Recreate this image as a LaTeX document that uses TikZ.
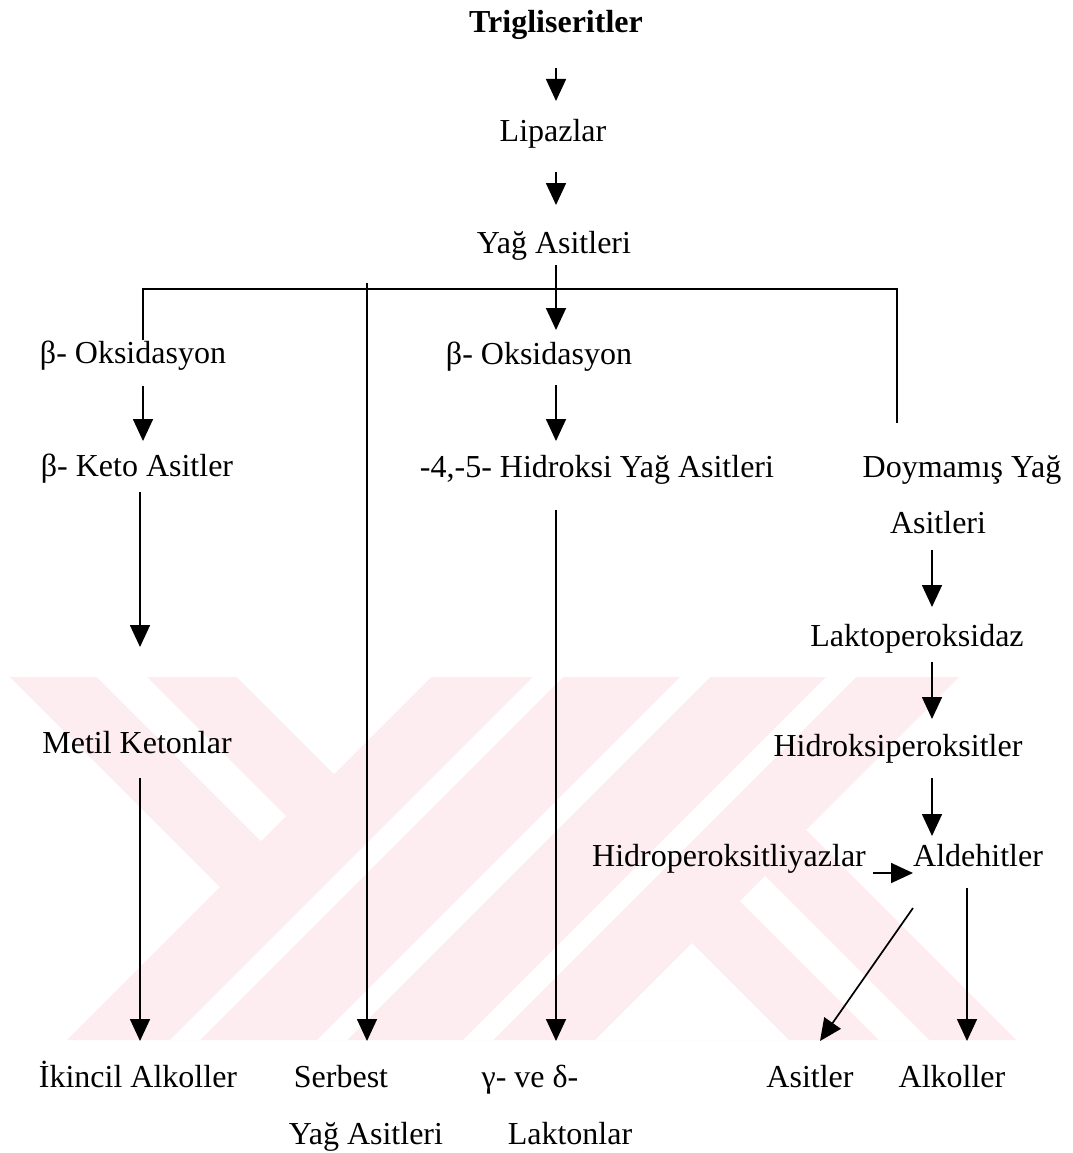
\documentclass[tikz,border=0pt]{standalone}
\usepackage{fontspec}
\setmainfont{Liberation Serif}
\usetikzlibrary{arrows.meta}
\definecolor{wm}{RGB}{253,236,240}
\begin{document}
\begin{tikzpicture}[x=1pt,y=-1pt,
  lbl/.style={anchor=base,inner sep=0pt,font=\fontsize{32}{38}\selectfont},
  arr/.style={line width=1.7pt,-{Triangle[length=22pt,width=20pt]}},
  ln/.style={line width=1.7pt},
  wmark/.style={fill=wm,draw=none},
  wgap/.style={fill=white,draw=none}]
\useasboundingbox[fill=white] (0,0) rectangle (1072,1153);
% watermark
\fill[wmark] (10,677) -- (959,677) -- (806,830) -- (1016,1040) -- (67,1040) -- (220,887) -- cycle;
\fill[wgap] (97,677) -- (147,677) -- (286,816) -- (261,841) -- cycle;
\fill[wgap] (929,1040) -- (879,1040) -- (740,901) -- (765,876) -- cycle;
\fill[wgap] (237,677) -- (334,774) -- (431,677) -- cycle;
\fill[wgap] (789,1040) -- (692,943) -- (595,1040) -- cycle;
\fill[wgap] (533,677) -- (563,677) -- (200,1040) -- (170,1040) -- cycle;
\fill[wgap] (680,677) -- (710,677) -- (347,1040) -- (317,1040) -- cycle;
\fill[wgap] (826,677) -- (856,677) -- (493,1040) -- (463,1040) -- cycle;
% labels
\node[lbl,font=\fontsize{32}{38}\selectfont\bfseries] (trig) at (556,33) {Trigliseritler};
\node[lbl] (lip) at (553,141) {Lipazlar};
\node[lbl] (yag) at (554,253) {Yağ Asitleri};
\node[lbl] (boxa) at (133,363) {β- Oksidasyon};
\node[lbl] (boxb) at (539,364) {β- Oksidasyon};
\node[lbl] (keto) at (137,476) {β- Keto Asitler};
\node[lbl] (hid) at (597,477) {-4,-5- Hidroksi Yağ Asitleri};
\node[lbl] (doya) at (962,477) {Doymamış Yağ};
\node[lbl] (doyb) at (938,533) {Asitleri};
\node[lbl] (lakto) at (917,646) {Laktoperoksidaz};
\node[lbl] (metil) at (137,753) {Metil Ketonlar};
\node[lbl] (hperox) at (898,756) {Hidroksiperoksitler};
\node[lbl] (hlyaz) at (729,866) {Hidroperoksitliyazlar};
\node[lbl] (ald) at (978,866) {Aldehitler};
\node[lbl] (ikin) at (138,1087) {İkincil Alkoller};
\node[lbl] (serba) at (341,1087) {Serbest};
\node[lbl] (serbb) at (366,1144) {Yağ Asitleri};
\node[lbl] (gama) at (530,1087) {γ- ve δ-};
\node[lbl] (gamb) at (570,1144) {Laktonlar};
\node[lbl] (asit) at (810,1087) {Asitler};
\node[lbl] (alk) at (952,1087) {Alkoller};
% connector end points
\coordinate (t1) at (556,68);   \coordinate (t2) at (556,101);
\coordinate (l1) at (556,172);  \coordinate (l2) at (556,205);
\coordinate (y1) at (556,265);  \coordinate (y2) at (556,330);
\coordinate (bl) at (143,340);  \coordinate (blc) at (143,289);
\coordinate (brc) at (897,289); \coordinate (br) at (897,423);
\coordinate (s1) at (367,283);  \coordinate (s2) at (367,1041);
\coordinate (p1) at (143,386);  \coordinate (p2) at (143,441);
\coordinate (k1) at (140,492);  \coordinate (k2) at (140,647);
\coordinate (m1) at (140,778);  \coordinate (m2) at (140,1041);
\coordinate (q1) at (556,385);  \coordinate (q2) at (556,441);
\coordinate (h1) at (556,510);  \coordinate (h2) at (556,1041);
\coordinate (d1) at (932,550);  \coordinate (d2) at (932,607);
\coordinate (e1) at (932,662);  \coordinate (e2) at (932,719);
\coordinate (f1) at (932,778);  \coordinate (f2) at (932,836);
\coordinate (g1) at (873,873);  \coordinate (g2) at (913,873);
\coordinate (j1) at (913,908);  \coordinate (j2) at (820,1041);
\coordinate (v1) at (967,888);  \coordinate (v2) at (967,1041);
% connectors
\draw[arr] (t1) -- (t2);
\draw[arr] (l1) -- (l2);
\draw[arr] (y1) -- (y2);
\draw[ln] (bl) -- (blc) -- (brc) -- (br);
\draw[arr] (s1) -- (s2);
\draw[arr] (p1) -- (p2);
\draw[arr] (k1) -- (k2);
\draw[arr] (m1) -- (m2);
\draw[arr] (q1) -- (q2);
\draw[arr] (h1) -- (h2);
\draw[arr] (d1) -- (d2);
\draw[arr] (e1) -- (e2);
\draw[arr] (f1) -- (f2);
\draw[arr] (g1) -- (g2);
\draw[arr] (j1) -- (j2);
\draw[arr] (v1) -- (v2);
\end{tikzpicture}
\end{document}
